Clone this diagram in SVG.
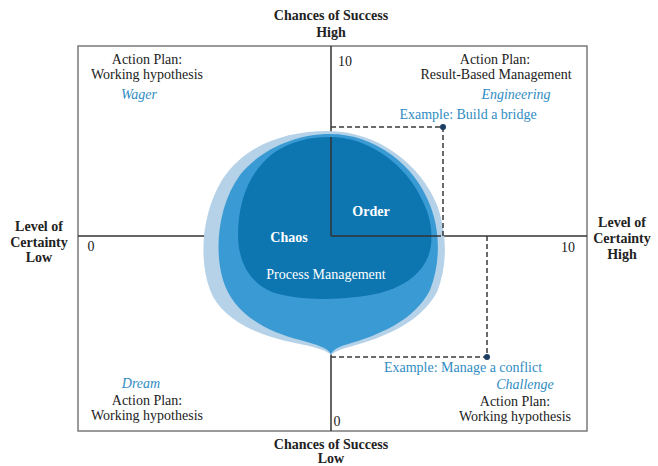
<svg xmlns="http://www.w3.org/2000/svg" width="658" height="466" viewBox="0 0 658 466">
<style>
text{font-family:"Liberation Serif","Times New Roman",serif;font-size:14px;fill:#222;text-anchor:middle}
.b{font-weight:bold}
.blue{fill:#2f8cc2}
.it{font-style:italic;fill:#2f8cc2}
.w{fill:#ffffff}
.axis{stroke:#333;stroke-width:1.5;fill:none}
.frame{stroke:#7a7a7a;stroke-width:1.5;fill:none}
.dash{stroke:#3a3a3a;stroke-width:1.5;stroke-dasharray:5 3;fill:none}
.dot{fill:#1c3e63}
</style>
<g id="frame">
<rect class="frame" x="78" y="46" width="509" height="385"/>
</g>
<g id="axes">
<line class="axis" x1="78" y1="236" x2="587" y2="236"/>
<line class="axis" x1="331" y1="46" x2="331" y2="431"/>
</g>
<g id="blob">
<path fill="#b5d2e8" d="M328,131 C378,131 421,165 437,205 C447,232 448,265 437,292 C421,322 386,337 349,347 C339,350 334,352 331,355 C326,350 315,347 295,343 C250,334 220,316 210,290 C199,260 201,215 222,180 C245,145 285,131 328,131 Z"/>
<path fill="#3a9ad3" d="M330,134 C375,134 415,165 430,205 C440,230 441,262 430,290 C415,320 380,335 345,345 C338,347 333,350 331,354 C328,348 318,345 300,340 C260,330 232,310 223,280 C214,250 218,205 240,175 C260,150 295,134 330,134 Z"/>
<path fill="#0d76b1" d="M330,137 C365,137 400,160 418,192 C428,210 433,225 431,245 C428,268 410,285 380,293 C350,300 300,302 272,292 C250,283 238,262 238,235 C238,200 250,170 275,152 C292,141 310,137 330,137 Z"/>
</g>
<g id="order-quadrant">
<line class="axis" x1="331" y1="137" x2="331" y2="236"/>
<line class="axis" x1="331" y1="236" x2="441" y2="236"/>
</g>
<g id="connectors">
<polyline class="dash" points="331,127 443,127 443,236"/>
<polyline class="dash" points="487,236 487,357 331,357"/>
<circle class="dot" cx="443" cy="127" r="3"/>
<circle class="dot" cx="487" cy="357" r="3"/>
</g>
<g id="axis-labels">
<text class="b" x="331" y="20">Chances of Success</text>
<text class="b" x="331" y="37">High</text>
<text class="b" x="331" y="449">Chances of Success</text>
<text class="b" x="331" y="463">Low</text>
<text class="b" x="39" y="231">Level of</text>
<text class="b" x="39" y="247">Certainty</text>
<text class="b" x="39" y="262">Low</text>
<text class="b" x="622" y="227">Level of</text>
<text class="b" x="622" y="243">Certainty</text>
<text class="b" x="622" y="259">High</text>
<text x="345" y="66">10</text>
<text x="91" y="251">0</text>
<text x="568" y="252">10</text>
<text x="337" y="426">0</text>
</g>
<g id="wager">
<text x="147" y="64">Action Plan:</text>
<text x="147" y="79">Working hypothesis</text>
<text class="it" x="139" y="99">Wager</text>
</g>
<g id="engineering">
<text x="495" y="64">Action Plan:</text>
<text x="496" y="79">Result-Based Management</text>
<text class="it" x="516" y="99">Engineering</text>
<text class="blue" x="468" y="119">Example: Build a bridge</text>
</g>
<g id="dream">
<text class="it" x="141" y="388">Dream</text>
<text x="147" y="405">Action Plan:</text>
<text x="147" y="420">Working hypothesis</text>
</g>
<g id="challenge">
<text class="blue" x="463" y="372">Example: Manage a conflict</text>
<text class="it" x="525" y="389">Challenge</text>
<text x="515" y="406">Action Plan:</text>
<text x="515" y="421">Working hypothesis</text>
</g>
<g id="blob-labels">
<text class="w b" x="371" y="216">Order</text>
<text class="w b" x="289" y="242">Chaos</text>
<text class="w" x="326" y="279">Process Management</text>
</g>
</svg>
